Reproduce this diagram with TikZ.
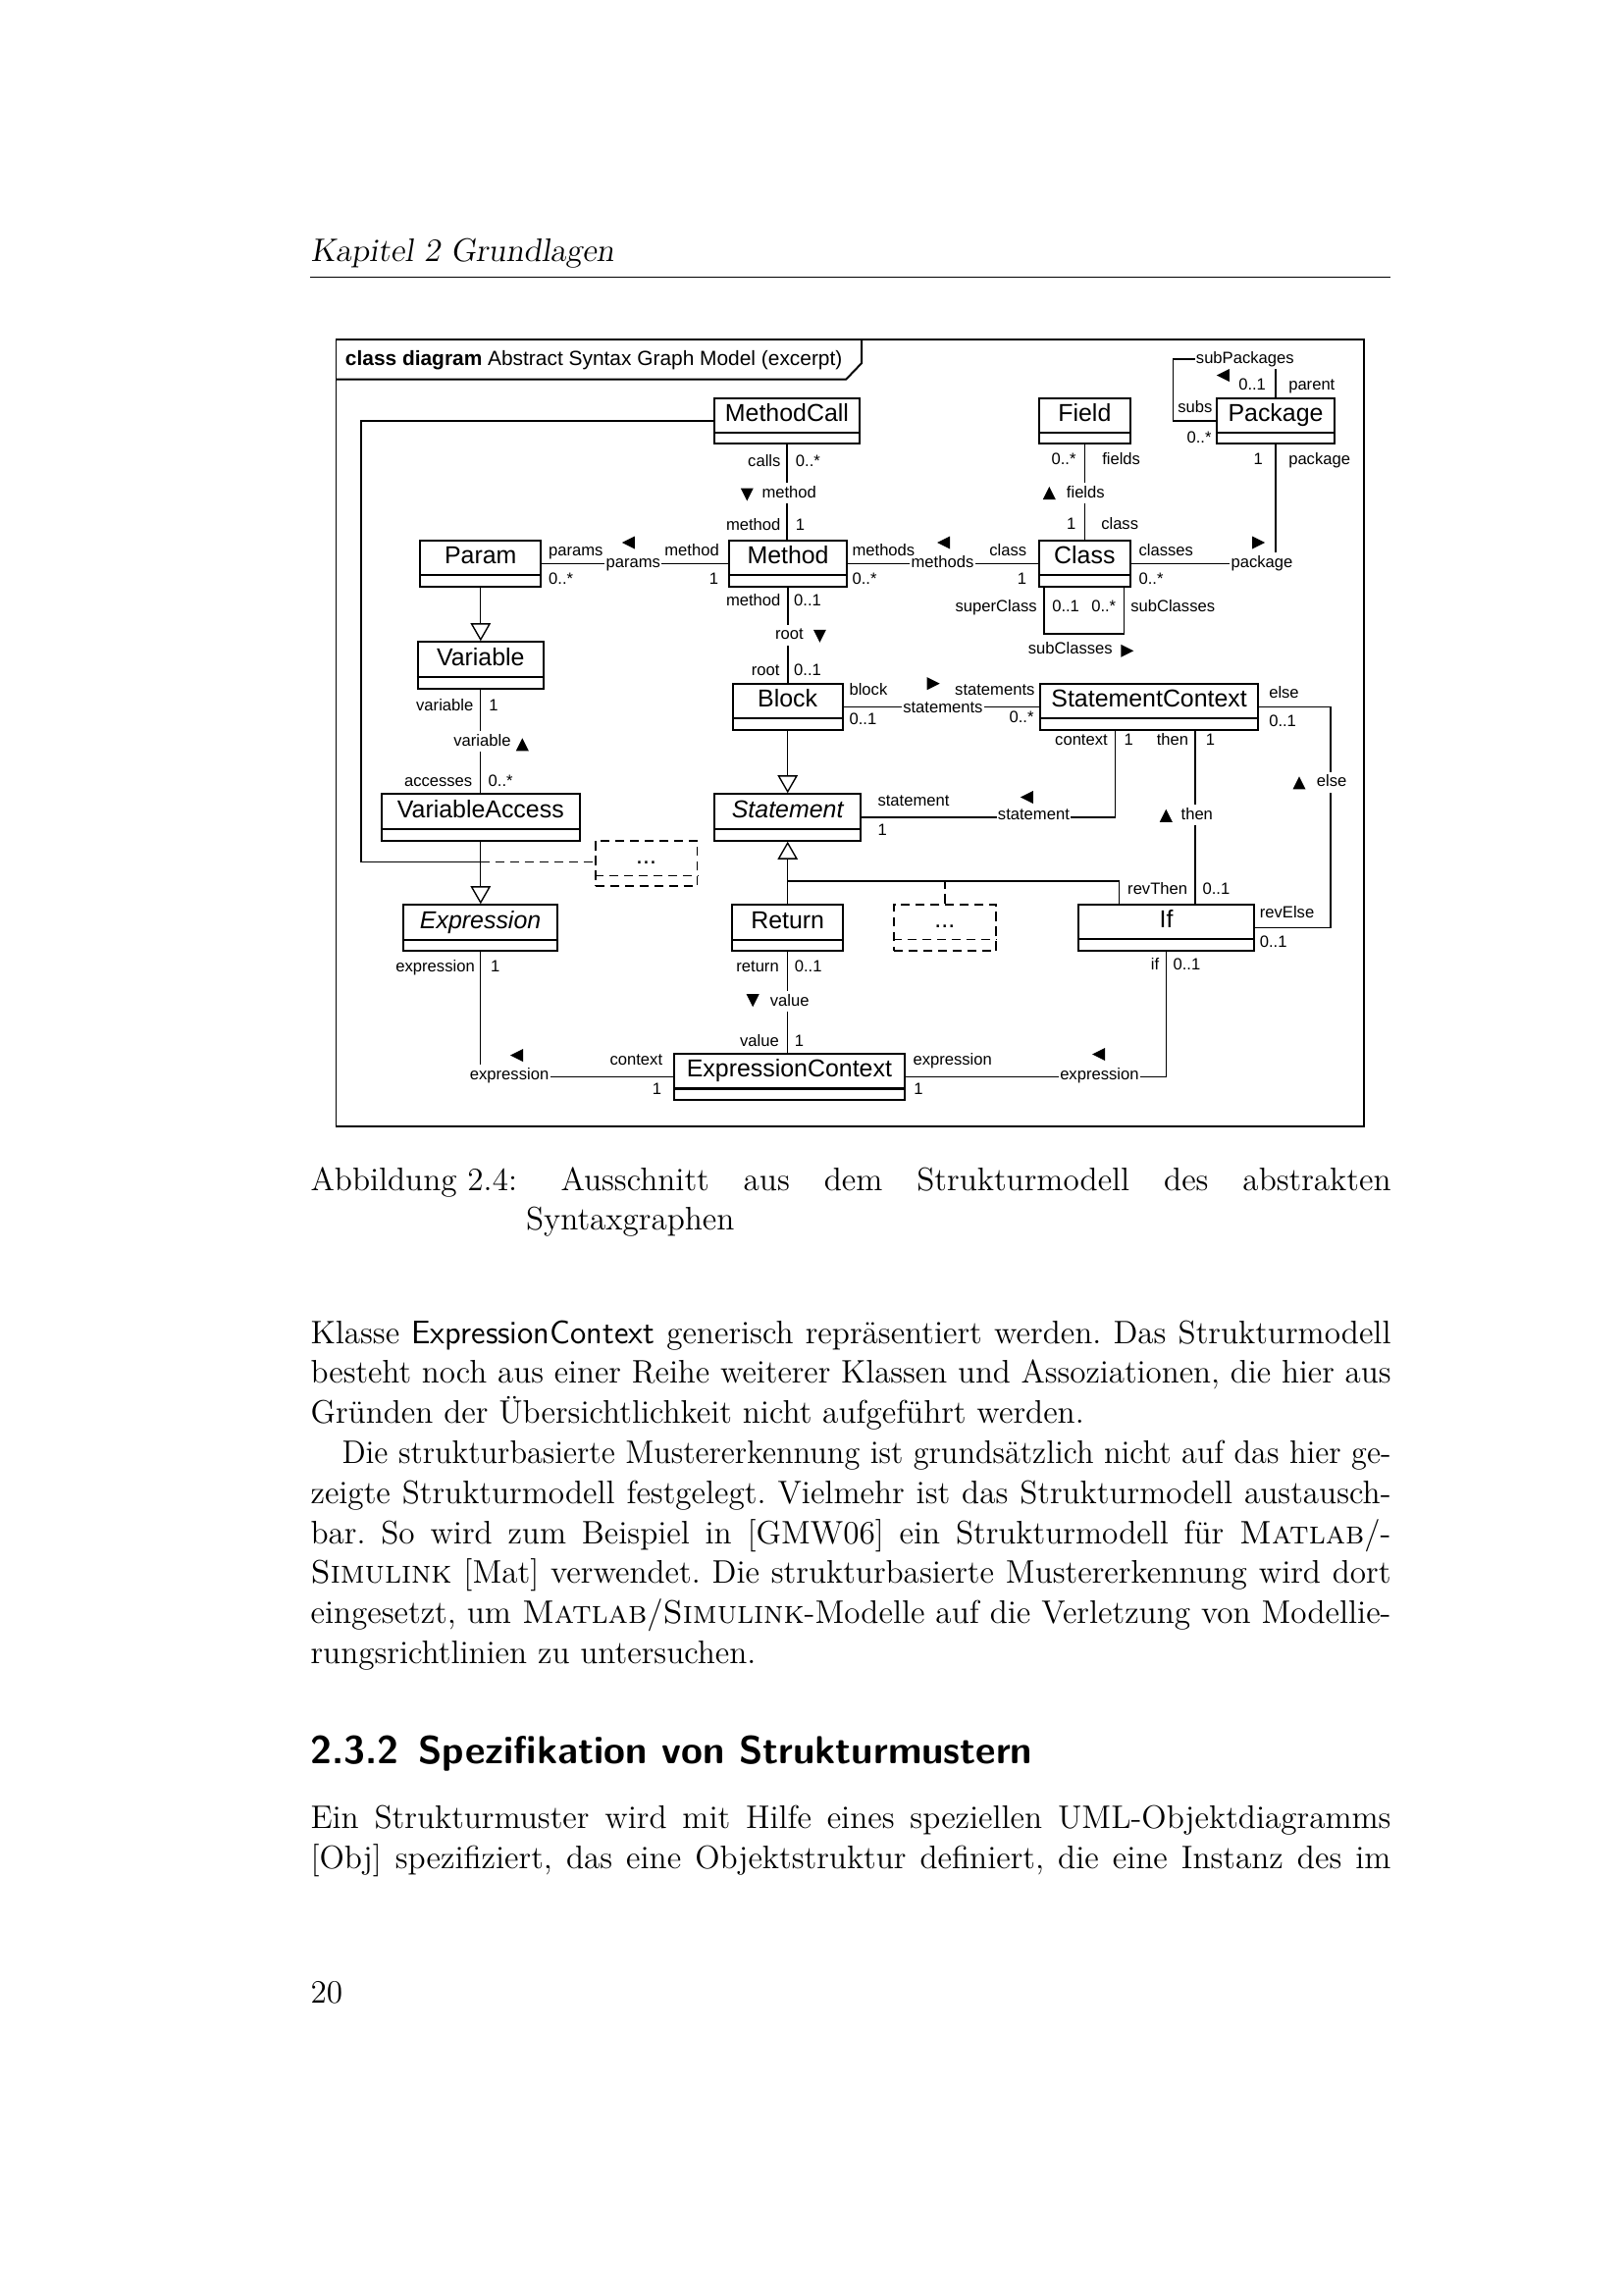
\documentclass[tikz,border=0pt]{standalone}
\usepackage{graphicx}
\usepackage{fontspec}
\newfontfamily\dfont{Liberation Sans}
\usetikzlibrary{calc,fit,arrows.meta}
\frenchspacing
\newlength\jlwd
\newcommand\jline[2]{\settowidth{\jlwd}{#2}\ifdim\jlwd>#1\relax\resizebox{#1}{\height}{#2}\else\makebox[#1][s]{#2}\fi}
\tikzset{
 cbox/.style={draw, line width=0.75pt, inner sep=0pt},
 dbox/.style={draw, line width=0.6pt, dash pattern=on 1.2mm off 0.7mm, inner sep=0pt},
 cname/.style={font=\dfont\fontsize{9}{10}\selectfont, inner sep=0pt, anchor=base},
 lbl/.style={font=\dfont\fontsize{6}{7}\selectfont, inner sep=0pt},
 lw/.style={lbl, anchor=base west},
 le/.style={lbl, anchor=base east},
 mid/.style={lbl, anchor=base west, fill=white, inner xsep=0.5pt, inner ysep=0.9pt, text height=4.4pt, text depth=1.3pt},
 conn/.style={line width=0.5pt},
 dconn/.style={line width=0.5pt, dash pattern=on 1.2mm off 0.7mm},
 gen/.style={conn, -{Triangle[open, length=2.3mm, width=2.6mm]}},
 frame/.style={line width=0.7pt},
 ptext/.style={inner sep=0pt, anchor=base west, font=\fontsize{12}{14.5}\selectfont\frenchspacing},
 navR/.pic={\fill (-6.5,-6.5) -- (6.5,0) -- (-6.5,6.5) -- cycle;},
 navL/.pic={\fill (6.5,-6.5) -- (-6.5,0) -- (6.5,6.5) -- cycle;},
 navU/.pic={\fill (-6.5,6.5) -- (0,-6.5) -- (6.5,6.5) -- cycle;},
 navD/.pic={\fill (-6.5,-6.5) -- (0,6.5) -- (6.5,-6.5) -- cycle;},
}
\newcommand\umlclass[7][cbox]{%
 \node[#1, fit={(#3,#4) (#5,#6)}] (#2) {};
 \draw[#1] ($(#2.north west)+(0,36.5)$) -- ($(#2.north east)+(0,36.5)$);
 \node[cname] (#2-t) at ($(#2.north)+(0,25)$) {#7};
}
\begin{document}
\begin{tikzpicture}[x=0.12697mm, y=-0.12697mm]
\fill[white] (0,0) rectangle (1654,2339);
\useasboundingbox (0,0) rectangle (1654,2339);

% ---------- page text ----------
\node[ptext] (hdr) at (316,266.5) {\slshape Kapitel 2 Grundlagen};
\draw[line width=0.5pt] (316,282.3) -- (1417,282.3);

\node[ptext] (cap1) at (316,1213.5) {Abbildung 2.4:};
\node[ptext] (cap2) at (571,1213.5) {\jline{107.42mm}{Ausschnitt aus dem Strukturmodell des abstrakten}};
\node[ptext] (cap3) at (535.5,1253.5) {Syntaxgraphen};

\node[ptext] (b1) at (316,1369) {\jline{139.79mm}{Klasse \textsf{ExpressionContext} generisch repräsentiert werden. Das Strukturmodell}};
\node[ptext] (b2) at (316,1409.8) {\jline{139.79mm}{besteht noch aus einer Reihe weiterer Klassen und Assoziationen, die hier aus}};
\node[ptext] (b3) at (316,1450.6) {Gründen der Übersichtlichkeit nicht aufgeführt werden.};
\node[ptext] (b4) at (348,1491.4) {\jline{135.73mm}{Die strukturbasierte Mustererkennung ist grundsätzlich nicht auf das hier ge-}};
\node[ptext] (b5) at (316,1532.2) {\jline{139.79mm}{zeigte Strukturmodell festgelegt. Vielmehr ist das Strukturmodell austausch-}};
\node[ptext] (b6) at (316,1573) {\jline{139.79mm}{bar. So wird zum Beispiel in [GMW06] ein Strukturmodell für \textsc{Matlab}/-}};
\node[ptext] (b7) at (316,1613.8) {\jline{139.79mm}{\textsc{Simulink} [Mat] verwendet. Die strukturbasierte Mustererkennung wird dort}};
\node[ptext] (b8) at (316,1654.6) {\jline{139.79mm}{eingesetzt, um \textsc{Matlab}/\textsc{Simulink}-Modelle auf die Verletzung von Modellie-}};
\node[ptext] (b9) at (316,1695.4) {rungsrichtlinien zu untersuchen.};

\node[ptext] (sec) at (316,1797) {\resizebox{93.4mm}{!}{\fontsize{14.4}{17}\selectfont\sffamily\bfseries 2.3.2\enskip Spezifikation von Strukturmustern}};
\node[ptext] (c1) at (316,1863) {\jline{139.79mm}{Ein Strukturmuster wird mit Hilfe eines speziellen UML-Objektdiagramms}};
\node[ptext] (c2) at (316,1904) {\jline{139.79mm}{[Obj] spezifiziert, das eine Objektstruktur definiert, die eine Instanz des im}};
\node[ptext] (pg) at (316,2041) {20};

% ---------- diagram frame ----------
\draw[frame] (342.5,346) rectangle (1390,1148);
\draw[frame] (342.5,386.7) -- (862.1,386.7) -- (878.2,370) -- (878.2,346);
\node[anchor=base west, inner sep=0pt, font=\dfont\fontsize{7.55}{9}\selectfont] (title) at (351.4,372) {\textbf{class diagram} Abstract Syntax Graph Model (excerpt)};

% ---------- classes ----------
\umlclass{MethodCall}{728.2}{405.7}{875.7}{452.3}{MethodCall}
\umlclass{Field}{1059}{405.7}{1151.7}{452.3}{Field}
\umlclass{Package}{1240}{405.7}{1360}{452.3}{Package}
\umlclass{Param}{428.2}{550.7}{551.4}{598.3}{Param}
\umlclass{Method}{743.2}{550.7}{862.9}{598.3}{Method}
\umlclass{Class}{1059}{550.7}{1151.7}{598.3}{Class}
\umlclass{Variable}{425.7}{654.3}{553.9}{701.7}{Variable}
\umlclass{Block}{746.8}{696.7}{858.6}{744}{Block}
\umlclass{StatementContext}{1060}{696.7}{1282.3}{744}{StatementContext}
\umlclass{VariableAccess}{388.9}{809.3}{590.7}{856.7}{VariableAccess}
\umlclass{Statement}{728.2}{809.3}{877.1}{856.7}{\itshape Statement}
\umlclass[dbox]{Dots1}{606.8}{856.7}{710.4}{903.3}{...}
\umlclass{Expression}{411}{922.3}{568.2}{969.3}{\itshape Expression}
\umlclass{Return}{746.1}{922.3}{859.3}{969.3}{Return}
\umlclass[dbox]{Dots2}{910.7}{921.7}{1015}{969.3}{...}
\umlclass{If}{1099.3}{921.7}{1277.7}{969.3}{If}
\umlclass{ExpressionContext}{687.1}{1074}{921.7}{1121}{ExpressionContext}

% ---------- connectors ----------
\draw[conn] (MethodCall.south) -- (MethodCall.south |- Method.north);
\draw[conn] (Method.south) -- (Method.south |- Block.north);
\draw[conn] (Param.east) -- (Method.west);
\draw[conn] (Method.east) -- (Class.west);
\draw[conn] (Class.east) -| (Package.south);
\draw[conn] (Field.south) -- (Class.north);
\draw[conn] (Package.north) -- ++(0,-38.6) -| ($(Package.west)+(-43.3,0)$) -- (Package.west);
\draw[conn] ($(Class.south west)+(6,0)$) -- ++(0,46.7) -| ($(Class.south east)+(-7.4,0)$);
\draw[conn] (Block.east) -- (StatementContext.west);
\draw[conn] (Statement.east) -| ($(StatementContext.south west)+(77.3,0)$);
\coordinate (thenTop) at ($(StatementContext.south west)+(159,0)$);
\draw[conn] (thenTop) -- (thenTop |- If.north);
\draw[conn] (StatementContext.east) -- ++(72.7,0) |- (If.east);
\draw[gen] (Param.south) -- (Param.south |- Variable.north);
\draw[conn] (Variable.south) -- (Variable.south |- VariableAccess.north);
\draw[gen] (VariableAccess.south) -- (VariableAccess.south |- Expression.north);
\coordinate (jexpr) at ($(VariableAccess.south)+(0,21)$);
\draw[conn] (MethodCall.west) -- ++(-359,0) |- (jexpr);
\draw[dconn] (jexpr) -- (jexpr -| Dots1.west);
\draw[gen] (Block.south) -- (Block.south |- Statement.north);
\draw[gen] (Return.north) -- (Return.north |- Statement.south);
\coordinate (jstmt) at ($(Return.north)+(0,-23.3)$);
\coordinate (ifTop) at ($(If.north west)+(42.4,0)$);
\draw[conn] (jstmt) -| (ifTop);
\draw[dconn] (Dots2.north) -- (Dots2.north |- jstmt);
\draw[conn] (Return.south) -- (Return.south |- ExpressionContext.north);
\draw[conn] (ExpressionContext.west) -| (Expression.south);
\draw[conn] (ExpressionContext.east) -| (If.south);

% ---------- middle labels (on lines) ----------
\node[mid] (m1) at (774.6,507) {method};
\node[mid] (m2) at (615.7,578) {params};
\node[mid] (m3) at (926.7,578) {methods};
\node[mid] (m4) at (1252.7,578) {package};
\node[mid] (m5) at (1085,507) {fields};
\node[mid] (m6) at (1217,370) {subPackages};
\node[mid] (m7) at (788.2,651.7) {root};
\node[mid] (m8) at (460.4,760) {variable};
\node[mid] (m9) at (918.3,726.7) {statements};
\node[mid] (m10) at (1015,835) {statement};
\node[mid] (m11) at (1201.7,835) {then};
\node[mid] (m12) at (1340,801.7) {else};
\node[mid] (m13) at (782.9,1025) {value};
\node[mid] (m14) at (477,1100) {expression};
\node[mid] (m15) at (1078.3,1100) {expression};

% ---------- end labels ----------
\node[le] (l1) at (796,475) {calls};
\node[lw] (l2) at (810.4,475) {0..*};
\node[le] (l3) at (796,540) {method};
\node[lw] (l4) at (810.4,540) {1};
\node[lw] (l5) at (558.6,566) {params};
\node[lw] (l6) at (558.6,595) {0..*};
\node[le] (l7) at (733.3,566) {method};
\node[le] (l8) at (732.7,595) {1};
\node[lw] (l9) at (868,566) {methods};
\node[lw] (l10) at (868,595) {0..*};
\node[le] (l11) at (1046.7,566) {class};
\node[le] (l12) at (1046.7,595) {1};
\node[lw] (l13) at (1160,566) {classes};
\node[lw] (l14) at (1160,595) {0..*};
\node[le] (l15) at (1287.3,473.3) {1};
\node[lw] (l16) at (1312.7,473.3) {package};
\node[le] (l17) at (1097,473.3) {0..*};
\node[lw] (l18) at (1122.7,473.3) {fields};
\node[le] (l19) at (1097,539.3) {1};
\node[lw] (l20) at (1121.7,539.3) {class};
\node[lw] (l21) at (1261.7,397.3) {0..1};
\node[lw] (l22) at (1312.7,397.3) {parent};
\node[le] (l23) at (1236,420) {subs};
\node[le] (l24) at (1235,451) {0..*};
\node[le] (l25) at (796,617) {method};
\node[lw] (l26) at (808.6,617) {0..1};
\node[le] (l27) at (795,688.3) {root};
\node[lw] (l28) at (808.6,688.3) {0..1};
\node[lw] (l29) at (865,708.3) {block};
\node[lw] (l30) at (865,738.3) {0..1};
\node[le] (l31) at (1055,708.3) {statements};
\node[le] (l32) at (1054,736.7) {0..*};
\node[lw] (l33) at (1292.7,711.7) {else};
\node[lw] (l34) at (1292.7,740) {0..1};
\node[le] (l35) at (1129.3,759.3) {context};
\node[lw] (l36) at (1145,759.3) {1};
\node[le] (l37) at (1211.7,759.3) {then};
\node[lw] (l38) at (1228.3,759.3) {1};
\node[lw] (l39) at (894,821.7) {statement};
\node[lw] (l40) at (894,851.7) {1};
\node[le] (l41) at (482.9,724) {variable};
\node[lw] (l42) at (497.9,724) {1};
\node[le] (l43) at (481.8,801.7) {accesses};
\node[lw] (l44) at (497.1,801.7) {0..*};
\node[le] (l45) at (1210.7,911.7) {revThen};
\node[lw] (l46) at (1225,911.7) {0..1};
\node[lw] (l47) at (1283.3,935) {revElse};
\node[lw] (l48) at (1283.3,965) {0..1};
\node[le] (l49) at (1181.7,988.3) {if};
\node[lw] (l50) at (1195,988.3) {0..1};
\node[lw] (l51) at (930,1085) {expression};
\node[lw] (l52) at (930.7,1115) {1};
\node[le] (l53) at (794.3,990) {return};
\node[lw] (l54) at (809.3,990) {0..1};
\node[le] (l55) at (794.3,1066.7) {value};
\node[lw] (l56) at (809.3,1066.7) {1};
\node[le] (l57) at (484.3,990) {expression};
\node[lw] (l58) at (499.6,990) {1};
\node[le] (l59) at (675.7,1085) {context};
\node[le] (l60) at (674.6,1115) {1};
\node[le] (l61) at (1057.3,623.3) {superClass};
\node[lw] (l62) at (1071.7,623.3) {0..1};
\node[lw] (l63) at (1111.7,623.3) {0..*};
\node[lw] (l64) at (1151.7,623.3) {subClasses};
\node[lw] (l65) at (1047.3,666.7) {subClasses};

% ---------- navigation triangles ----------
\pic at (761.3,504) {navD};
\pic at (640.3,553) {navL};
\pic at (961.7,553) {navL};
\pic at (1282.5,553) {navR};
\pic at (1069.3,502.5) {navU};
\pic at (1246.3,382.5) {navL};
\pic at (835.4,648.3) {navD};
\pic at (532.3,758.8) {navU};
\pic at (1148.8,663.3) {navR};
\pic at (951.2,696.7) {navR};
\pic at (1046.3,812.5) {navL};
\pic at (1188.3,831.3) {navU};
\pic at (1324,797.8) {navU};
\pic at (767.2,1019.7) {navD};
\pic at (526.5,1075.5) {navL};
\pic at (1119.7,1074.5) {navL};
\end{tikzpicture}
\end{document}
